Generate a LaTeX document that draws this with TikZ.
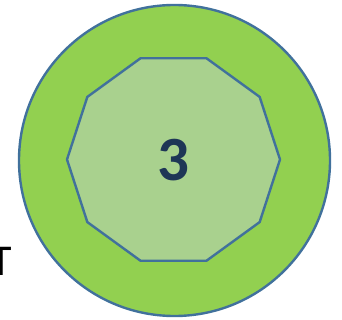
\documentclass[tikz,border=0pt]{standalone}
\usepackage{fontspec}
\setmainfont{Carlito}
\definecolor{ringgreen}{HTML}{92D050}
\definecolor{coregreen}{HTML}{A9D18E}
\definecolor{edgeblue}{HTML}{41719C}
\definecolor{numnavy}{RGB}{30,54,86}
\usetikzlibrary{positioning}

\begin{document}
\begin{tikzpicture}[x=1pt, y=-1pt,
    outline/.style={draw=edgeblue, line width=2.4pt, line join=round}]
  \useasboundingbox (0,0) rectangle (342,320);
  % outer ring and inner decagon
  \draw[outline, fill=ringgreen] (174.5,160.5) circle[radius=155.5];
  \draw[outline, fill=coregreen, shift={(173.5,159.5)}]
    (0:106.5) \foreach \a in {36,72,...,324} { -- (\a:106.5) } -- cycle;
  \node[text=numnavy, font=\bfseries\fontsize{63}{63}\selectfont, inner sep=0pt]
    (num) at (173.5,160) {3};
  % cut-off letter at the left edge
  \node[anchor=base, inner sep=0pt, font=\fontsize{44}{44}\selectfont]
    (cutT) at (1.5,275) {T};
\end{tikzpicture}
\end{document}
